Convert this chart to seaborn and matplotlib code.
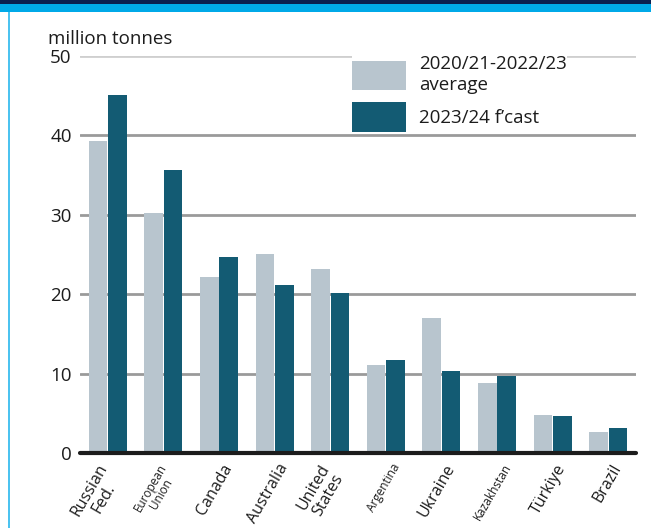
import matplotlib
matplotlib.use("Agg")
import matplotlib.pyplot as plt
from matplotlib.patches import Patch, Rectangle
from matplotlib.transforms import ScaledTranslation
import seaborn as sns
import pandas as pd

# Wheat exporters, million tonnes
countries = ["Russian\nFed.", "European\nUnion", "Canada", "Australia", "United\nStates",
             "Argentina", "Ukraine", "Kazakhstan", "Türkiye", "Brazil"]
avg_2020_2022 = [39.3, 30.2, 22.2, 25.1, 23.2, 11.1, 17.0, 8.8, 4.8, 2.7]
fcast_2023 = [45.1, 35.6, 24.7, 21.2, 20.2, 11.7, 10.3, 9.7, 4.6, 3.2]
series_names = ["2020/21-2022/23\naverage", "2023/24 f\u2019cast"]
label_sizes = [11.5, 8.5, 11.5, 11.5, 11.5, 8.5, 11.5, 8.5, 11.5, 11.5]
y_ticks = [0, 10, 20, 30, 40, 50]

light, dark = "#b8c5ce", "#135b73"
ink = "#1c1c1c"

df = pd.DataFrame({
    "country": countries * 2,
    "value": avg_2020_2022 + fcast_2023,
    "series": [series_names[0]] * len(countries) + [series_names[1]] * len(countries),
})

sns.set_theme(style="white")
plt.rcParams["font.family"] = ["Open Sans", "DejaVu Sans"]

W, H = 651, 528
fig = plt.figure(figsize=(W / 100, H / 100), dpi=100)
ax = fig.add_axes([80 / W, 1 - 453 / H, (636 - 80) / W, (453 - 56) / H])

sns.barplot(data=df, x="country", y="value", hue="series", hue_order=series_names,
            palette=[light, dark], width=0.7, gap=0.05, saturation=1,
            linewidth=0, edgecolor="none", legend=False, ax=ax, zorder=2)

ax.set_xlim(-0.5, len(countries) - 0.5)
ax.set_ylim(0, 50)
for v in y_ticks[1:]:
    ax.axhline(v, color="#cfcfcf" if v == 50 else "#9a9a9a", lw=2, zorder=1)
ax.axhline(0, color=ink, lw=3, zorder=3, clip_on=False)

for s in ax.spines.values():
    s.set_visible(False)
ax.set_xlabel("")
ax.set_ylabel("")
ax.set_yticks(y_ticks)
ax.set_yticklabels([str(v) for v in y_ticks], fontsize=13.5, color=ink)
ax.tick_params(axis="y", length=0, pad=6)
ax.tick_params(axis="x", length=0, pad=6)

ax.set_xticks(range(len(countries)))
ax.set_xticklabels(countries)
shift = ScaledTranslation(0.17, 0, fig.dpi_scale_trans)
for lab, fs in zip(ax.get_xticklabels(), label_sizes):
    lab.set_rotation(60)
    lab.set_ha("right")
    lab.set_va("top")
    lab.set_multialignment("center")
    lab.set_fontsize(fs)
    lab.set_color(ink)
    lab.set_linespacing(1.0)
    lab.set_transform(lab.get_transform() + shift)

fig.text(48 / W, 1 - 39 / H, "million tonnes", fontsize=13.5, color=ink,
         ha="left", va="center")

handles = [Patch(facecolor=light, edgecolor="none"), Patch(facecolor=dark, edgecolor="none")]
leg = ax.legend(handles, series_names, loc="upper left",
                bbox_to_anchor=(352 / W, 1 - 55 / H), bbox_transform=fig.transFigure,
                frameon=True, fancybox=False, framealpha=1, edgecolor="none",
                facecolor="white", borderpad=0, borderaxespad=0, fontsize=13.5,
                handlelength=2.88, handleheight=2.08, handletextpad=0.7,
                labelspacing=0.45, labelcolor=ink)
leg.set_zorder(4)

# page frame: dark and cyan bands at the top, thin cyan rule on the left
fig.add_artist(Rectangle((0, 1 - 4 / H), 1, 4 / H, transform=fig.transFigure,
                         color="#0a1f4f", lw=0))
fig.add_artist(Rectangle((0, 1 - 12 / H), 1, 8 / H, transform=fig.transFigure,
                         color="#00a9e8", lw=0))
fig.add_artist(Rectangle((8 / W, 0), 2 / W, 1 - 12 / H, transform=fig.transFigure,
                         color="#4cc3f0", lw=0))

fig.savefig("out.png", dpi=100)
